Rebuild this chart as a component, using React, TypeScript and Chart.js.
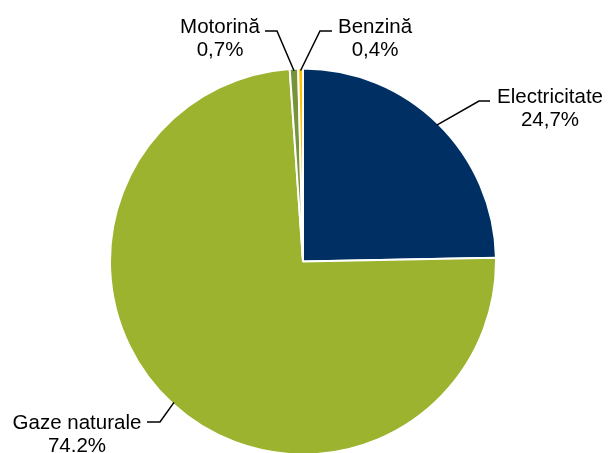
import React, { useEffect, useRef } from "react";
import { Chart, registerables } from "chart.js";

Chart.register(...registerables);

const categories = ["Electricitate", "Gaze naturale", "Motorină", "Benzină"];
const values = [24.7, 74.2, 0.7, 0.4];
const valueLabels = ["24,7%", "74.2%", "0,7%", "0,4%"];
const colors = ["#003063", "#9BB32E", "#77933C", "#FFC000"];

// label layout: elbow point, line end, text centre x, first baseline
const labelLayout = [
  { elbow: [479, 101], end: [490, 101], tx: 550, ty: 103 },
  { elbow: [160, 422], end: [147, 422], tx: 77, ty: 429 },
  { elbow: [277, 31], end: [265, 31], tx: 220, ty: 33 },
  { elbow: [320, 31], end: [332, 31], tx: 375, ty: 33 },
];

const labelPlugin = {
  id: "pieLabels",
  afterDatasetsDraw(chart: any) {
    const ctx = chart.ctx;
    const meta = chart.getDatasetMeta(0);
    ctx.save();
    meta.data.forEach((arc: any, i: number) => {
      const { x, y, startAngle, endAngle, outerRadius } = arc.getProps(
        ["x", "y", "startAngle", "endAngle", "outerRadius"],
        true
      );
      const mid = (startAngle + endAngle) / 2;
      const r = outerRadius - 2;
      const ax = x + Math.cos(mid) * r;
      const ay = y + Math.sin(mid) * r;
      const L = labelLayout[i];
      ctx.beginPath();
      ctx.strokeStyle = "#000";
      ctx.lineWidth = 1.5;
      ctx.moveTo(ax, ay);
      ctx.lineTo(L.elbow[0], L.elbow[1]);
      ctx.lineTo(L.end[0], L.end[1]);
      ctx.stroke();
      ctx.fillStyle = "#000";
      ctx.font = "20.5px 'Liberation Sans', Arial, sans-serif";
      ctx.textAlign = "center";
      ctx.textBaseline = "alphabetic";
      ctx.fillText(categories[i], L.tx, L.ty);
      ctx.fillText(valueLabels[i], L.tx, L.ty + 23);
    });
    ctx.restore();
  },
};

export default function App() {
  const canvasRef = useRef<HTMLCanvasElement | null>(null);
  useEffect(() => {
    if (!canvasRef.current) return;
    const chart = new Chart(canvasRef.current, {
      type: "pie",
      data: {
        labels: categories,
        datasets: [
          {
            data: values,
            backgroundColor: colors,
            borderColor: "#ffffff",
            borderWidth: 2,
            hoverOffset: 0,
          },
        ],
      },
      options: {
        responsive: false,
        animation: false,
        devicePixelRatio: 1,
        radius: 193,
        layout: { padding: { top: 70, bottom: 0, left: 0, right: 3 } },
        plugins: {
          legend: { display: false },
          tooltip: { enabled: false },
        },
      } as any,
      plugins: [labelPlugin],
    });
    return () => chart.destroy();
  }, []);
  return (
    <div style={{ position: "fixed", left: 0, top: 0, width: 609, height: 453, background: "#fff" }}>
      <canvas ref={canvasRef} width={609} height={453} />
    </div>
  );
}
